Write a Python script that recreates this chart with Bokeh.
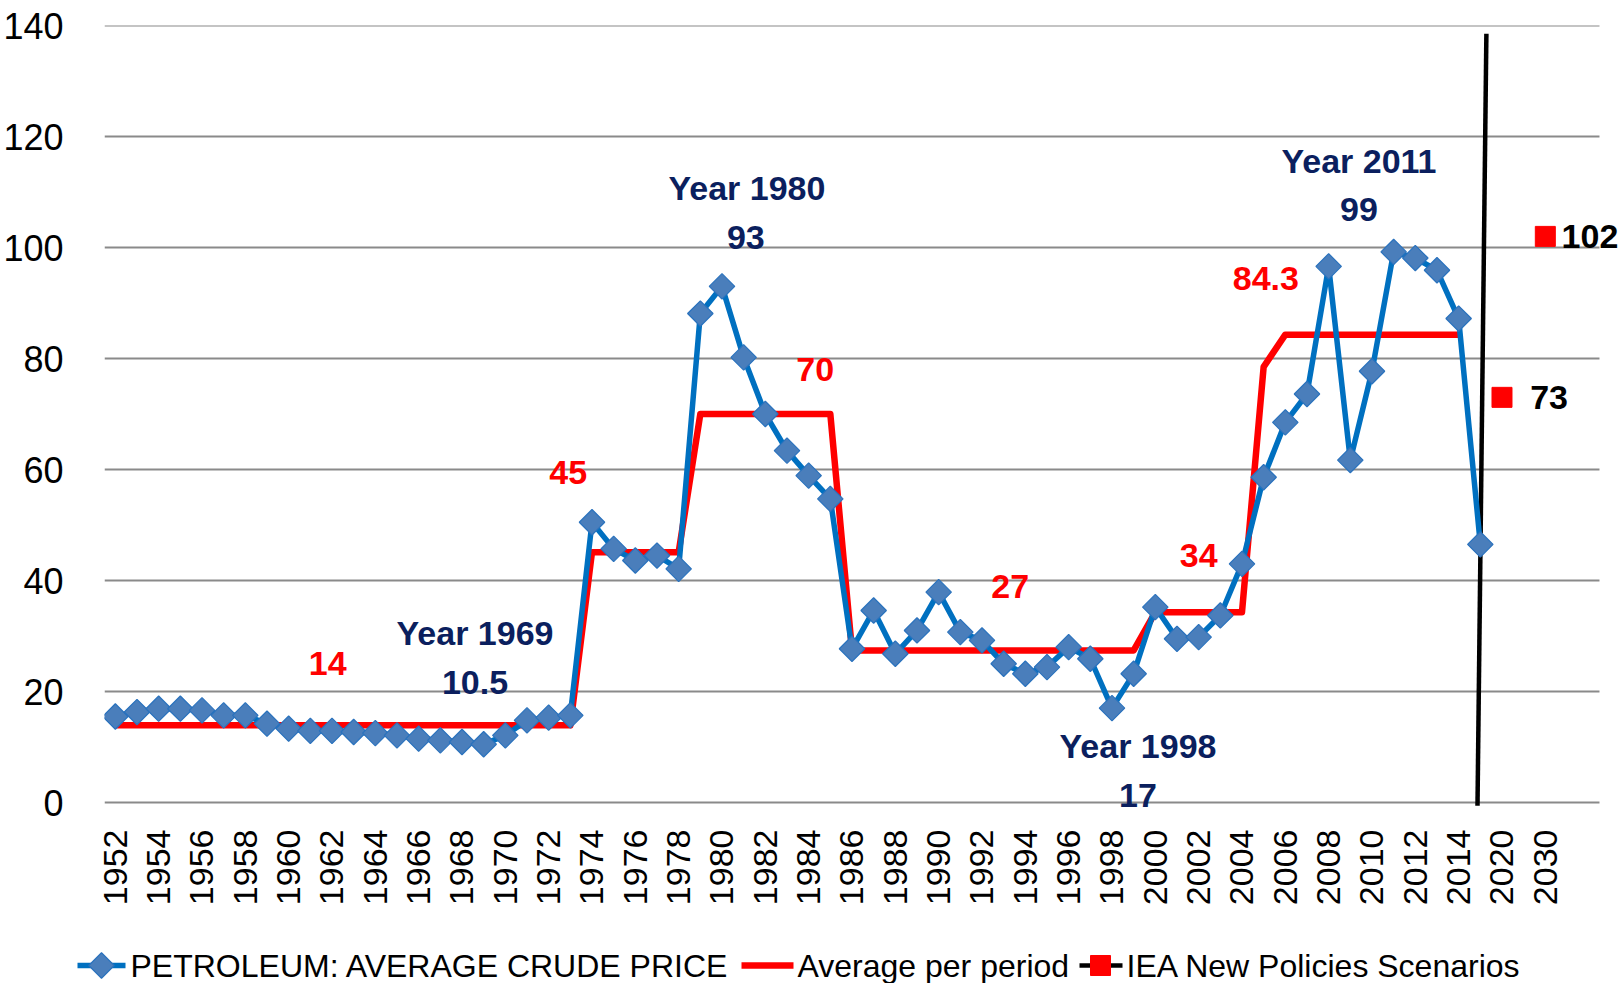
import numpy as np
from bokeh.plotting import figure
from bokeh.layouts import column
from bokeh.models import FixedTicker, Label, ColumnDataSource, Range1d
from bokeh.core.properties import value
from bokeh.embed import file_html
from bokeh.resources import INLINE

# ---------------- data ----------------
years = list(range(1952, 2016))
crude_price = [15.5, 16.3, 16.9, 16.9, 16.6, 15.7, 15.7, 14.2, 13.3, 12.9,
               12.9, 12.7, 12.5, 12.1, 11.5, 11.2, 10.9, 10.5, 12.1, 14.8,
               15.3, 15.7, 50.5, 45.7, 43.6, 44.5, 42.1, 88.1, 93.0, 80.2,
               70.0, 63.4, 58.9, 54.7, 27.7, 34.6, 26.8, 31.0, 37.9, 30.7,
               29.2, 25.0, 23.2, 24.4, 28.0, 25.9, 17.0, 23.2, 35.2, 29.5,
               29.8, 33.7, 43.0, 58.6, 68.5, 73.6, 96.6, 61.7, 77.7, 99.2,
               98.1, 95.9, 87.2, 46.5]
period_avg = [13.9, 13.9, 13.9, 13.9, 13.9, 13.9, 13.9, 13.9, 13.9, 13.9,
              13.9, 13.9, 13.9, 13.9, 13.9, 13.9, 13.9, 13.9, 13.9, 13.9,
              13.9, 13.9, 45.1, 45.1, 45.1, 45.1, 45.1, 70.0, 70.0, 70.0,
              70.0, 70.0, 70.0, 70.0, 27.4, 27.4, 27.4, 27.4, 27.4, 27.4,
              27.4, 27.4, 27.4, 27.4, 27.4, 27.4, 27.4, 27.4, 34.3, 34.3,
              34.3, 34.3, 34.3, 78.5, 84.3, 84.3, 84.3, 84.3, 84.3, 84.3,
              84.3, 84.3, 84.3, float("nan")]
iea_years = [2020, 2030]
iea_values = [73, 102]
tick_years = list(range(1952, 2015, 2)) + [2020, 2030]
y_ticks = [0, 20, 40, 60, 80, 100, 120, 140]
series_names = ["PETROLEUM: AVERAGE CRUDE PRICE", "Average per period",
                "IEA New Policies Scenarios"]

annot_texts = ["14", "Year 1969", "10.5", "45", "Year 1980", "93", "70", "27",
               "Year 1998", "17", "34", "84.3", "Year 2011", "99"]


def xpos(y):
    return y - 1952 if y <= 2015 else 64 + (y - 2020) // 5


NAVY = "#0b1f5e"
RED = "#ff0000"
BLUE = "#0070c0"
DIAM_FILL = "#4a7ebb"
DIAM_LINE = "#2a72bd"
GRID = "#8a8a8a"
FONT = "Liberation Sans"

X0, X1 = -0.5, 68.5          # category span of the plot area
W = 1620
H1 = 925
p = figure(width=W, height=H1, output_backend="svg", toolbar_location=None,
           x_range=Range1d(X0, 69.47), y_range=Range1d(-1.62, 140),
           min_border_left=103, min_border_right=0, min_border_top=25,
           min_border_bottom=114)
p.frame_align = False
p.outline_line_color = None
p.xgrid.visible = False
p.ygrid.visible = False

# horizontal grid lines limited to the category span
p.segment(x0=[X0] * len(y_ticks), y0=y_ticks, x1=[X1] * len(y_ticks), y1=y_ticks,
          line_color=GRID, line_width=2)

p.yaxis.ticker = FixedTicker(ticks=y_ticks)
p.yaxis.axis_line_color = None
p.yaxis.major_tick_line_color = None
p.yaxis.minor_tick_line_color = None
p.yaxis.major_label_text_font = FONT
p.yaxis.major_label_text_font_size = "36px"
p.yaxis.major_label_text_color = "black"
p.yaxis.major_label_standoff = 35

tick_pos = [xpos(y) for y in tick_years]
p.xaxis.ticker = FixedTicker(ticks=tick_pos)
p.xaxis.major_label_overrides = {xp: str(y) for xp, y in zip(tick_pos, tick_years)}
p.xaxis.axis_line_color = None
p.xaxis.major_tick_line_color = None
p.xaxis.minor_tick_line_color = None
p.xaxis.major_label_orientation = np.pi / 2
p.xaxis.major_label_text_font = FONT
p.xaxis.major_label_text_font_size = "34px"
p.xaxis.major_label_text_color = "black"
p.xaxis.major_label_standoff = 12

x_price = [xpos(y) for y in years]
src_price = ColumnDataSource(dict(x=x_price, y=crude_price))
src_avg = ColumnDataSource(dict(x=x_price, y=period_avg))
src_iea = ColumnDataSource(dict(x=[xpos(y) for y in iea_years], y=iea_values))

# divider at 2015 (slightly slanted as in the source)
divider_values = [-0.6, 138.5]
p.line([xpos(2015) - 0.13, xpos(2015) + 0.28], divider_values,
       line_color="black", line_width=4.5)

p.line("x", "y", source=src_avg, line_color=RED, line_width=6.5, line_join="round")
p.line("x", "y", source=src_price, line_color=BLUE, line_width=5.5, line_join="round")
p.scatter("x", "y", source=src_price, marker="square", angle=np.pi / 4, size=18,
          fill_color=DIAM_FILL, line_color=DIAM_LINE, line_width=1.2)
p.scatter("x", "y", source=src_iea, marker="square", size=20,
          fill_color=RED, line_color=RED)

annot_x = [9.8, 16.6, 16.6, 20.9, 29.15, 29.1, 32.3, 41.3, 47.2, 47.2, 50.0,
           53.1, 57.4, 57.4]
annot_y = [25.0, 30.5, 21.7, 59.5, 110.7, 101.8, 78.1, 38.9, 10.1, 1.3, 44.5,
           94.5, 115.6, 106.8]
annot_color = [RED, NAVY, NAVY, RED, NAVY, NAVY, RED, RED, NAVY, NAVY, RED,
               RED, NAVY, NAVY]
for t, ax, ay, c in zip(annot_texts, annot_x, annot_y, annot_color):
    p.add_layout(Label(x=ax, y=ay, text=t, text_color=c, text_font=FONT,
                       text_font_style="bold", text_font_size="34px",
                       text_align="center", text_baseline="middle"))

iea_label_x = [65.3, 66.75]
for v, lx in zip(iea_values, iea_label_x):
    p.add_layout(Label(x=lx, y=v, text=str(v), text_color="black", text_font=FONT,
                       text_font_style="bold", text_font_size="34px",
                       text_align="left", text_baseline="middle"))

# ---------------- legend strip ----------------
H2 = 58
q = figure(width=W, height=H2, output_backend="svg", toolbar_location=None,
           x_range=Range1d(0, W), y_range=Range1d(0, H2),
           min_border=0, min_border_left=0, min_border_right=0,
           min_border_top=0, min_border_bottom=0)
q.frame_align = False
q.axis.visible = False
q.grid.visible = False
q.outline_line_color = None
ly = H2 - (965 - H1)

# item 1
q.line([77, 125], [ly, ly], line_color=BLUE, line_width=5.5)
q.scatter([101], [ly], marker="square", angle=np.pi / 4, size=18,
          fill_color=DIAM_FILL, line_color=DIAM_LINE, line_width=1.2)
# item 2
q.line([741, 793], [ly, ly], line_color=RED, line_width=6.5)
# item 3
q.line([1079, 1122], [ly, ly], line_color="black", line_width=4.5)
q.scatter([1100], [ly], marker="square", size=20, fill_color=RED, line_color=RED)

q.text(x=[130, 797, 1126], y=[ly] * 3, text=series_names,
       text_font=value(FONT), text_font_size=value("32px"), text_color="black",
       text_align="left", text_baseline="middle")

open("out.html", "w").write(file_html(column(p, q), INLINE))
